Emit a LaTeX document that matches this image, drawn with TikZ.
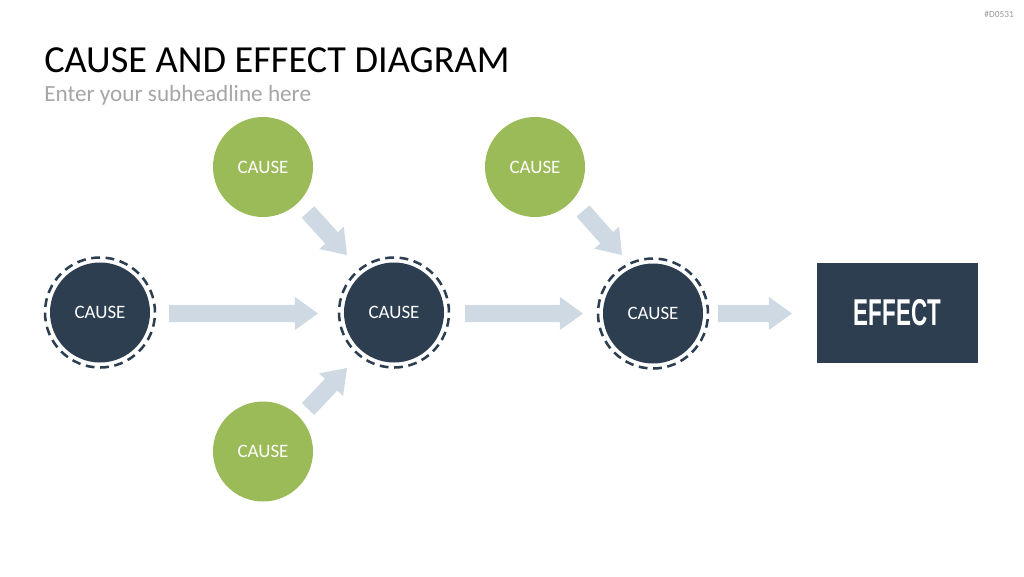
\documentclass[tikz,border=0pt]{standalone}
\usepackage{fontspec}
\setmainfont{Carlito}
\newfontfamily\effectfont[FakeStretch=0.6]{Liberation Sans}
\usetikzlibrary{calc}
\definecolor{navy}{HTML}{2C3E50}
\definecolor{leaf}{HTML}{9BBB59}
\definecolor{arrowc}{HTML}{CFD9E4}
\definecolor{subgray}{HTML}{A6A6A6}
\definecolor{codegray}{HTML}{9A9A9A}
\tikzset{
  causebase/.style={circle, minimum size=75pt, inner sep=0pt, text=white, font=\fontsize{14.2}{16}\selectfont},
  greencause/.style={causebase, fill=leaf},
  darkcause/.style={causebase, fill=navy},
  ring/.style={draw=navy, line width=1.9pt, dash pattern=on 6.6pt off 4.2pt},
  blockarrow/.style={fill=arrowc, draw=none, to path={
    ($(\tikztotarget)!17.3pt!(\tikztostart)$) coordinate (ba-h)
    ($(\tikztostart)!6.4pt!90:(\tikztotarget)$)
    -- ($(ba-h)!6.4pt!90:(\tikztotarget)$)
    -- ($(ba-h)!12.4pt!90:(\tikztotarget)$)
    -- (\tikztotarget)
    -- ($(ba-h)!12.4pt!-90:(\tikztotarget)$)
    -- ($(ba-h)!6.4pt!-90:(\tikztotarget)$)
    -- ($(\tikztostart)!6.4pt!-90:(\tikztotarget)$)
    -- cycle}}
}
\begin{document}
\begin{tikzpicture}[x=0.75pt, y=-0.75pt]
\useasboundingbox (0,0) rectangle (1024,576);
\fill[white] (0,0) rectangle (1024,576);

% header
\node[anchor=base west, inner sep=0pt, font=\fontsize{28.7}{32}\selectfont] (title) at (44,72) {CAUSE AND EFFECT DIAGRAM};
\node[anchor=base west, inner sep=0pt, text=subgray, font=\fontsize{17.4}{20}\selectfont] (sub) at (44,101.5) {Enter your subheadline here};
\node[anchor=base east, inner sep=0pt, text=codegray, font=\fontsize{7}{8}\selectfont] (code) at (1014,17) {\#D0531};

% arrows (endpoints)
\coordinate (a1s) at (169,313.5);  \coordinate (a1e) at (318,313.5);
\coordinate (a2s) at (465,313.5);  \coordinate (a2e) at (583,313.5);
\coordinate (a3s) at (718,313.5);  \coordinate (a3e) at (792,313.5);
\coordinate (d1s) at (308,212);    \coordinate (d1e) at (347,255);
\coordinate (d2s) at (308,409);    \coordinate (d2e) at (347,368);
\coordinate (d3s) at (583,211);    \coordinate (d3e) at (622,255);
\path[blockarrow] (a1s) to (a1e);
\path[blockarrow] (a2s) to (a2e);
\path[blockarrow] (a3s) to (a3e);
\path[blockarrow] (d1s) to (d1e);
\path[blockarrow] (d2s) to (d2e);
\path[blockarrow] (d3s) to (d3e);

% green causes
\node[greencause] (g1) at (263,167) {CAUSE};
\node[greencause] (g2) at (535,167) {CAUSE};
\node[greencause] (g3) at (263,451.5) {CAUSE};

% dark causes
\node[darkcause] (c1) at (100,312.5) {CAUSE};
\node[darkcause] (c2) at (394,312.5) {CAUSE};
\node[darkcause] (c3) at (653,313.5) {CAUSE};
\draw[ring] (c1) circle[radius=41.25pt];
\draw[ring] (c2) circle[radius=41.25pt];
\draw[ring] (c3) circle[radius=41.25pt];

% effect
\node[fill=navy, minimum width=120.75pt, minimum height=75pt, inner sep=0pt, text=white,
      font=\effectfont\bfseries\fontsize{28}{30}\selectfont] (effect) at (897.5,313) {EFFECT};
\end{tikzpicture}
\end{document}
